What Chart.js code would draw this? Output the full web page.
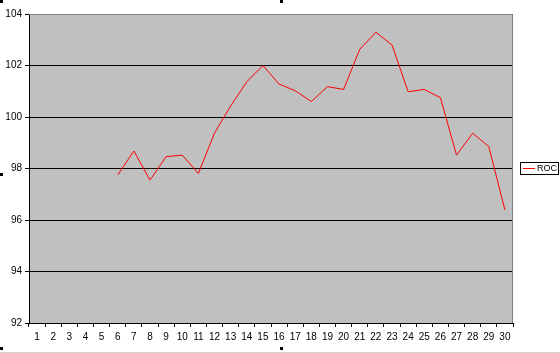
<!DOCTYPE html>
<html>
<head>
<meta charset="utf-8">
<script src="https://cdn.jsdelivr.net/npm/chart.js@4/dist/chart.umd.min.js"></script>
<style>
  html, body { margin: 0; padding: 0; background: #fff; }
  #wrap { width: 560px; height: 353px; position: relative; }
</style>
</head>
<body>
<div id="wrap"><canvas id="rocChart"></canvas></div>
<script>
const periods = Array.from({ length: 30 }, (_, i) => String(i + 1));
const rocValues = [
    null, null, null, null, null,
    97.75, 98.68, 97.55, 98.46, 98.52, 97.81, 99.38, 100.43, 101.37, 102.0,
    101.28, 101.02, 100.6, 101.18, 101.07, 102.63, 103.29, 102.8, 100.98, 101.07,
    100.75, 98.52, 99.37, 98.85, 96.39
];
const yMin = 92;
const yMax = 104;
const yStep = 2;
const seriesName = 'ROC';

// plot frame, legend box and selection handles, drawn like the old excel chart
const excelLook = {
    id: 'excelLook',
    beforeDraw(chart) {
        let { ctx, chartArea: a } = chart;
        ctx.save();
        ctx.fillStyle = '#c0c0c0';
        ctx.fillRect(a.left, a.top, a.right - a.left, a.bottom - a.top);
        ctx.restore();
    },
    afterDraw(chart) {
        let { ctx, chartArea: a } = chart;
        ctx.save();
        ctx.strokeStyle = '#808080';
        ctx.lineWidth = 1;
        ctx.beginPath();
        ctx.moveTo(a.left, a.top + 0.5);
        ctx.lineTo(a.right - 0.5, a.top + 0.5);
        ctx.lineTo(a.right - 0.5, a.bottom);
        ctx.stroke();

        // legend
        let x = 520, y = 162, w = 38, h = 12;
        ctx.fillStyle = '#fff';
        ctx.fillRect(x, y, w, h);
        ctx.strokeStyle = '#000';
        ctx.strokeRect(x + 0.5, y + 0.5, w, h);
        ctx.strokeStyle = '#ff0000';
        ctx.beginPath();
        ctx.moveTo(x + 3, y + 6.5);
        ctx.lineTo(x + 15, y + 6.5);
        ctx.stroke();
        ctx.fillStyle = '#000';
        ctx.font = '9px "Liberation Sans", Arial, sans-serif';
        ctx.textBaseline = 'middle';
        ctx.fillText(seriesName, x + 17, y + 7);

        // handles
        ctx.fillStyle = '#000';
        [[0, 0], [280, 0], [0, 173], [0, 347], [280, 347]].forEach(p => ctx.fillRect(p[0], p[1], 3, 3));
        ctx.fillStyle = '#d0d0d0';
        ctx.fillRect(0, 352, 560, 1);
        ctx.restore();
    }
};

new Chart(document.getElementById('rocChart'), {
    type: 'line',
    data: {
        labels: periods,
        datasets: [{
            label: seriesName,
            data: rocValues,
            borderColor: '#ff0000',
            borderWidth: 1,
            pointRadius: 0,
            tension: 0,
            spanGaps: false
        }]
    },
    options: {
        responsive: true,
        maintainAspectRatio: false,
        animation: false,
        layout: { padding: { top: 14, right: 47, left: 0, bottom: 0 } },
        plugins: { legend: { display: false }, tooltip: { enabled: false } },
        scales: {
            x: {
                offset: true,
                grid: { offset: true, drawOnChartArea: false, drawTicks: true, tickLength: 4, color: '#000' },
                border: { color: '#000' },
                ticks: { color: '#000', font: { family: '"Liberation Sans", Arial', size: 10 }, maxRotation: 0, autoSkip: false, padding: 4 },
                afterFit: s => { s.height = 30; }
            },
            y: {
                min: yMin,
                max: yMax,
                grid: { color: '#000', tickLength: 4 },
                border: { color: '#000' },
                ticks: { stepSize: yStep, color: '#000', font: { family: '"Liberation Sans", Arial', size: 10 }, padding: 3 },
                afterFit: s => { s.width = 29; }
            }
        }
    },
    plugins: [excelLook]
});
</script>
</body>
</html>
